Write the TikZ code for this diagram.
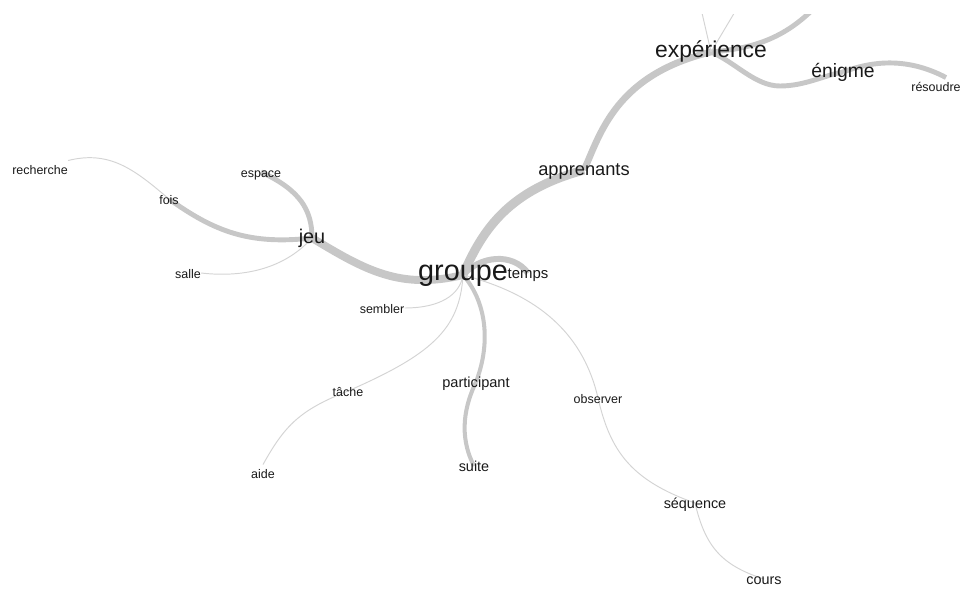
\documentclass[tikz,border=0pt]{standalone}
\usepackage{fontspec}
\setmainfont{Liberation Sans}
\usetikzlibrary{backgrounds,calc}

\begin{document}
\begin{tikzpicture}[x=0.02cm, y=-0.02cm,
    mot/.style={inner sep=0pt, text=black!90, text height=1.5ex, text depth=.25ex, font=\fontsize{#1}{#1}\selectfont},
    mot/.default=7.1,
    branche/.style={draw=black!22, line width=#1},
    fil/.style={draw=black!17, line width=0.55pt},
]
\useasboundingbox (0,0) rectangle (962,588);

% mots
\node (groupe) [mot=16.4] at (463,275) {groupe};
\node (temps) [mot=8.5] at (528,273) {temps};
\node (sembler) [mot] at (382,308) {sembler};
\node (jeu) [mot=11.3] at (312,238) {jeu};
\node (espace) [mot] at (261,172) {espace};
\node (fois) [mot] at (169,199) {fois};
\node (recherche) [mot] at (40,169) {recherche};
\node (salle) [mot] at (188,273) {salle};
\node (tache) [mot] at (348,391) {tâche};
\node (aide) [mot] at (263,473) {aide};
\node (participant) [mot=8.3] at (476,382) {participant};
\node (suite) [mot=8.2] at (474,466) {suite};
\node (observer) [mot] at (598,398) {observer};
\node (sequence) [mot=8.2] at (695,503) {séquence};
\node (cours) [mot=8.2] at (764,579) {cours};
\node (apprenants) [mot=10.4] at (584,170) {apprenants};
\node (experience) [mot=13] at (711,52) {expérience};
\node (enigme) [mot=11] at (843,72) {énigme};
\node (resoudre) [mot] at (936,86) {résoudre};

% bouts hors cadre
\coordinate (hautA) at (699,0);
\coordinate (hautB) at (742,0);
\coordinate (hautC) at (822,0);

\begin{scope}[on background layer]
\clip (0,15) rectangle (962,588);
% branches epaisses
\draw [branche=5.1pt] (groupe.center) .. controls (483,228) and (510,190) .. (apprenants.center);
\draw [branche=3.8pt] (apprenants.center) .. controls (600,135) and (615,75) .. (experience.center);
\draw [branche=2.8pt] (experience.center) .. controls (760,48) and (790,35) .. (hautC);
\draw [branche=2.8pt] (experience.center) .. controls (735,62) and (755,86) .. (780,86) .. controls (805,86) and (825,75) .. (enigme.center);
\draw [branche=2.8pt] (enigme.center) .. controls (870,62) and (905,56) .. ($(resoudre.north)+(10,0)$);
\draw [branche=4.5pt] (groupe.center) .. controls (400,290) and (365,270) .. (jeu.center);
\draw [branche=2.8pt] (jeu.center) .. controls (250,245) and (215,232) .. (fois.center);
\draw [branche=2.8pt] (jeu.center) .. controls (312,210) and (300,190) .. (espace.center);
\draw [branche=3.4pt] (groupe.center) .. controls (480,256) and (512,252) .. (temps.center);
\draw [branche=2.3pt] (groupe.center) .. controls (485,300) and (492,340) .. (participant.center);
\draw [branche=2.3pt] (participant.center) .. controls (465,405) and (458,435) .. (suite.center);
% fils fins
\draw [fil] (experience.center) -- (hautA);
\draw [fil] (experience.center) -- (hautB);
\draw [fil] (fois.center) .. controls (135,170) and (110,150) .. (recherche.north east);
\draw [fil] (jeu.center) .. controls (285,268) and (245,278) .. (salle.east);
\draw [fil] (groupe.center) .. controls (460,295) and (440,308) .. (sembler.east);
\draw [fil] (groupe.center) .. controls (460,330) and (430,355) .. (tache.center);
\draw [fil] (tache.center) .. controls (300,410) and (285,425) .. (aide.north);
\draw [fil] (groupe.center) .. controls (520,290) and (580,320) .. (observer.center);
\draw [fil] (observer.center) .. controls (610,450) and (630,480) .. (sequence.center);
\draw [fil] (sequence.center) .. controls (705,545) and (720,565) .. (cours.center);
\end{scope}

\end{tikzpicture}
\end{document}
